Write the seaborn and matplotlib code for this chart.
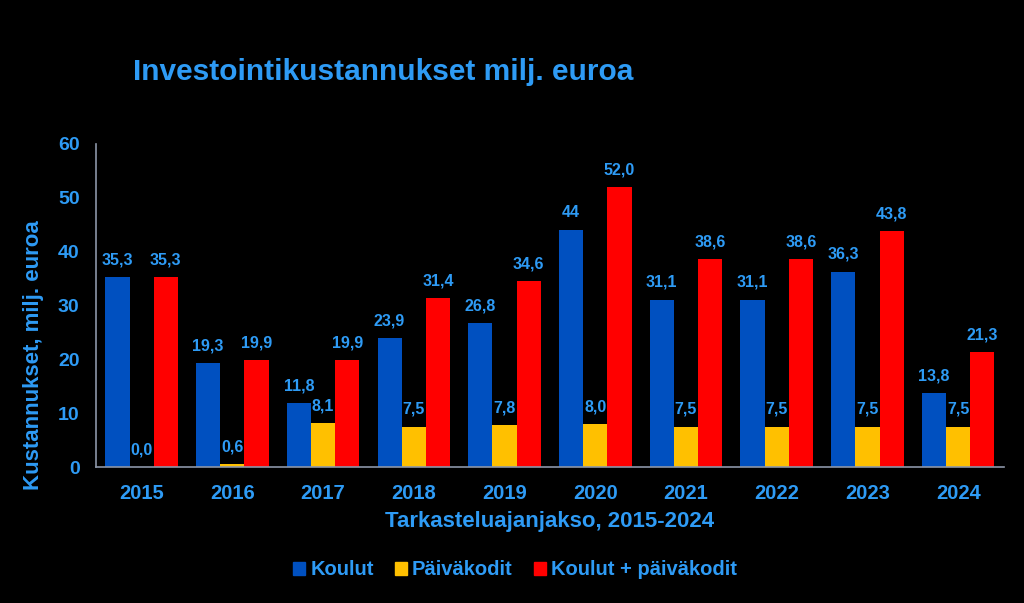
import matplotlib
matplotlib.use("Agg")
import matplotlib.pyplot as plt
import seaborn as sns
import pandas as pd

years = ['2015', '2016', '2017', '2018', '2019', '2020', '2021', '2022', '2023', '2024']
koulut = [35.3, 19.3, 11.8, 23.9, 26.8, 44.0, 31.1, 31.1, 36.3, 13.8]
paivakodit = [0.0, 0.6, 8.1, 7.5, 7.8, 8.0, 7.5, 7.5, 7.5, 7.5]
yhteensa = [35.3, 19.9, 19.9, 31.4, 34.6, 52.0, 38.6, 38.6, 43.8, 21.3]
series_names = ['Koulut', 'Päiväkodit', 'Koulut + päiväkodit']
koulut_labels = ['35,3', '19,3', '11,8', '23,9', '26,8', '44', '31,1', '31,1', '36,3', '13,8']

txt = '#2E9BF5'
colors = ['#0050C0', '#FFC000', '#FF0000']

df = pd.DataFrame({
    'vuosi': years * 3,
    'arvo': koulut + paivakodit + yhteensa,
    'sarja': [series_names[0]] * 10 + [series_names[1]] * 10 + [series_names[2]] * 10,
})

sns.set_style('dark')
plt.rcParams['font.family'] = ['Liberation Sans', 'DejaVu Sans']
plt.rcParams['font.weight'] = 'bold'

fig = plt.figure(figsize=(10.24, 6.03), dpi=100, facecolor='black')
ax = fig.add_axes([0.094, 0.2255, 0.886, 0.5357])
ax.set_facecolor('black')

sns.barplot(data=df, x='vuosi', y='arvo', hue='sarja', palette=colors,
            saturation=1, ax=ax, width=0.8, linewidth=0, edgecolor='none')

for i, cont in enumerate(ax.containers):
    vals = [koulut, paivakodit, yhteensa][i]
    if i == 0:
        labels = koulut_labels
    else:
        labels = [f'{v:.1f}'.replace('.', ',') for v in vals]
    ax.bar_label(cont, labels=labels, padding=7, color=txt, fontsize=11.5,
                 fontweight='bold')

ax.set_ylim(0, 60)
ax.set_xlim(-0.5, 9.5)
ax.set_yticks(range(0, 61, 10))
ax.tick_params(axis='both', length=0, colors=txt)
ax.tick_params(axis='x', labelsize=14.5, pad=12)
ax.tick_params(axis='y', labelsize=14, pad=12)
for lab in ax.get_xticklabels() + ax.get_yticklabels():
    lab.set_fontweight('bold')
ax.grid(False)
for s in ['top', 'right']:
    ax.spines[s].set_visible(False)
for s in ['left', 'bottom']:
    ax.spines[s].set_visible(True)
    ax.spines[s].set_color('#8C96A8')
    ax.spines[s].set_linewidth(1.2)

ax.set_xlabel('Tarkasteluajanjakso, 2015-2024', color=txt, fontsize=16,
              fontweight='bold', labelpad=6)
ax.set_ylabel('Kustannukset, milj. euroa', color=txt, fontsize=16,
              fontweight='bold')
ax.yaxis.set_label_coords(-0.058, 0.347)

fig.text(0.3745, 0.881, 'Investointikustannukset milj. euroa', color=txt,
         fontsize=21.5, fontweight='bold', ha='center', va='center')

ax.legend_.remove()
handles = [plt.Rectangle((0, 0), 1, 1, color=c) for c in colors]
fig.legend(handles, series_names, loc='center', bbox_to_anchor=(0.503, 0.055),
           ncol=3, frameon=False, labelcolor=txt,
           handlelength=0.6, handleheight=0.6, handletextpad=0.25,
           columnspacing=1.05, prop={'weight': 'bold', 'size': 14.5})

fig.savefig('out.png', dpi=100, facecolor='black')
